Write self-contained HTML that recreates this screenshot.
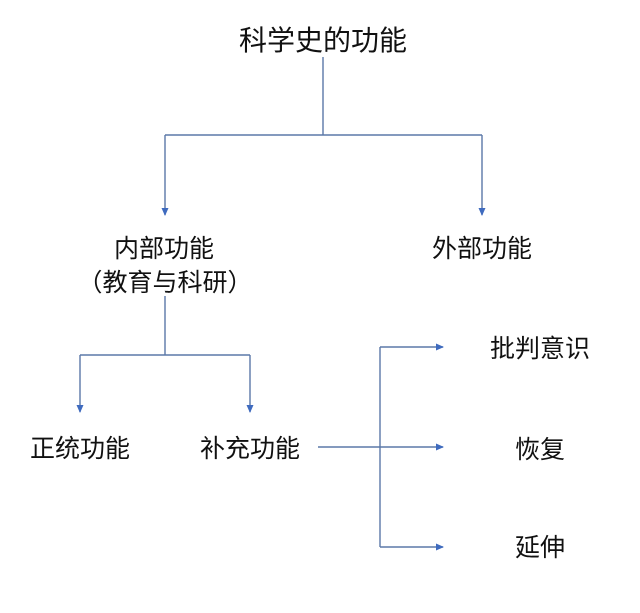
<!DOCTYPE html>
<html><head><meta charset="utf-8"><style>
body{margin:0;background:#fff;}
svg text{font-family:"Liberation Sans","Noto Sans CJK SC",sans-serif;fill:#111;}
</style></head><body>
<svg width="640" height="608" viewBox="0 0 640 608" xmlns="http://www.w3.org/2000/svg">
<defs><marker id="a" markerWidth="8" markerHeight="8" refX="7" refY="4" orient="auto" markerUnits="userSpaceOnUse">
<path d="M0,0.5 L8,4 L0,7.5 Z" fill="#3f6bbf"/></marker></defs>
<rect width="640" height="608" fill="#fff"/>
<g stroke="#5b78a8" stroke-width="1.4" fill="none">
<path d="M323 57 V135"/>
<path d="M165 135 H482"/>
<path d="M165 135 V215" marker-end="url(#a)"/>
<path d="M482 135 V215" marker-end="url(#a)"/>
<path d="M165 296 V355"/>
<path d="M80 355 H250"/>
<path d="M80 355 V412" marker-end="url(#a)"/>
<path d="M250 355 V412" marker-end="url(#a)"/>
<path d="M318 447 H443" marker-end="url(#a)"/>
<path d="M380 347 V547"/>
<path d="M380 347 H443" marker-end="url(#a)"/>
<path d="M380 547 H443" marker-end="url(#a)"/>
</g>
<text x="323" y="50" font-size="28" text-anchor="middle">科学史的功能</text>
<text x="164" y="257" font-size="25" text-anchor="middle">内部功能</text>
<text x="165" y="291" font-size="25" text-anchor="middle">（教育与科研）</text>
<text x="482" y="257" font-size="25" text-anchor="middle">外部功能</text>
<text x="80" y="457" font-size="25" text-anchor="middle">正统功能</text>
<text x="250" y="457" font-size="25" text-anchor="middle">补充功能</text>
<text x="540" y="357" font-size="25" text-anchor="middle">批判意识</text>
<text x="540" y="458" font-size="25" text-anchor="middle">恢复</text>
<text x="540" y="556" font-size="25" text-anchor="middle">延伸</text>
</svg>
</body></html>
